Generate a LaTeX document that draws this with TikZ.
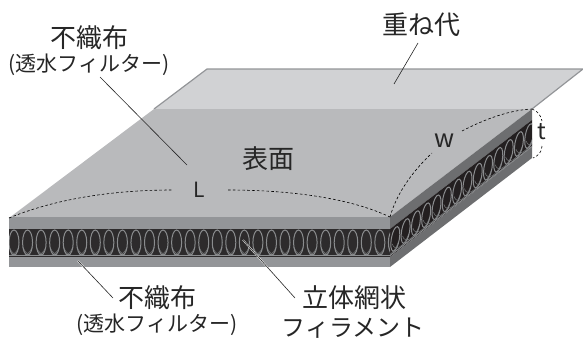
\documentclass[tikz,border=0pt]{standalone}
\usepackage{fontspec}
\setmainfont{Noto Sans CJK JP}
\definecolor{topc}{HTML}{B9BABC}
\definecolor{flapc}{HTML}{D1D2D4}
\definecolor{frontc}{HTML}{939598}
\definecolor{sidec}{HTML}{6D6E70}
\definecolor{darkc}{HTML}{2D2B2C}
\definecolor{sidedark}{HTML}{231F20}
\definecolor{coilc}{HTML}{8A8C8E}
\tikzset{
  lbig/.style={inner sep=0pt,text=black!85,font=\fontsize{26}{26}\selectfont},
  lkana/.style={inner sep=0pt,text=black!85,font=\fontsize{24}{24}\selectfont},
  lsmall/.style={inner sep=0pt,text=black!85,font=\fontsize{21}{21}\selectfont},
  lsym/.style={inner sep=0pt,text=black!85,font=\fontsize{21}{21}\selectfont},
  lsymw/.style={inner sep=0pt,text=black!85,font=\fontsize{25}{25}\selectfont},
  lsymt/.style={inner sep=0pt,text=black!85,font=\fontsize{23}{23}\selectfont},
  dimline/.style={black,line width=0.6pt,dash pattern=on 2.6pt off 2.2pt},
  leaderhalo/.style={white,line width=1.5pt},
  leader/.style={black!85,line width=0.6pt},
  coil/.style={coilc,line width=1pt},
  coilarc/.style={coilc!80!black,line width=0.6pt}
}
\begin{document}
\begin{tikzpicture}[x=1pt,y=-1pt]
\useasboundingbox (0,0) rectangle (583,340);
% flap and top surface
\fill[flapc] (207,69) -- (583,69) -- (532,109) -- (154,109) -- cycle;
\draw[frontc,line width=1.2pt] (154,109) -- (207,69) -- (583,69) -- (532,109);
\fill[topc] (9,218) -- (154,109) -- (532,109) -- (390,217) -- cycle;
% front layers
\fill[frontc] (9,217) rectangle (390,229);
\fill[darkc] (9,229) rectangle (390,257);
\fill[frontc] (9,257) rectangle (390,267);
% side layers
\fill[sidec] (390,217) -- (532,109) -- (532,120) -- (390,229) -- cycle;
\fill[sidedark] (390,229) -- (532,120) -- (532,147) -- (390,257) -- cycle;
\fill[sidec] (390,257) -- (532,147) -- (532,158) -- (390,267) -- cycle;
% front coil
\begin{scope}
\clip (9,229) rectangle (390,257);
\foreach \i [evaluate=\i as \xc using 14+13.55*\i] in {-1,0,...,28}{
  \draw[coilarc] (\xc-4.6,247) .. controls (\xc-2,254) and (\xc+2,256) .. (\xc+6.8,255.5)
     .. controls (\xc+11.5,256) and (\xc+15.5,254) .. (\xc+18.2,247);
  \draw[coil] (\xc,242.5) ellipse (5 and 12.5);
}
\draw[coil] (9,255.5) -- (390,255.5);
\end{scope}
% side coil
\begin{scope}
\clip (390,229) -- (532,120) -- (532,147) -- (390,257) -- cycle;
\foreach \i [evaluate=\i as \xc using 385+10.3*\i, evaluate=\i as \yc using 243-0.768*(-5+10.3*\i)] in {0,1,...,15}{
  \draw[coilarc] (\xc-3,\yc+5) .. controls (\xc-1,\yc+13) and (\xc+9,\yc+8) .. (\xc+13.5,\yc-5);
  \draw[coil,shift={(\xc,\yc)},rotate=-10] (0,0) ellipse (4 and 12.5);
}
\draw[coil] (390,255.5) -- (532,146.5);
\end{scope}
% dimension labels
\node[lsym] (L) at (199.5,190) {L};
\node[lsymw] (W) at (445,141) {w};
\node[lsymt] (T) at (541.5,132) {t};
\coordinate (fl) at (9,218);
\coordinate (fr) at (390,217);
\coordinate (br) at (532,109);
\coordinate (brb) at (533,158);
\draw[dimline] (fl) .. controls (60,197) and (120,190) .. (172,190);
\draw[dimline] (228,190) .. controls (290,190) and (350,198) .. (fr);
\draw[dimline] (fr) .. controls (397,192) and (414,170) .. (432,153);
\draw[dimline] (462,131) .. controls (485,119) and (510,110) .. (br);
\draw[dimline] (br) .. controls (538,111) and (541,116) .. (542,121);
\draw[dimline] (542,146) .. controls (542,152) and (538,156) .. (brb);
% texts
\node[lbig] (a) at (89,38) {不織布};
\node[lsmall] (a2) at (89,65) {(透水フィルター)};
\node[lbig] (b) at (421,25) {重ね代};
\node[lbig] (c) at (268,159) {表面};
\node[lbig] (d) at (157,298) {不織布};
\node[lsmall] (d2) at (157,325) {(透水フィルター)};
\node[lbig] (e) at (354,298) {立体網状};
\node[lkana] (e2) at (353,328) {フィラメント};
% leaders
\coordinate (a0) at (100,77);
\coordinate (a1) at (187,165);
\coordinate (b0) at (418,43);
\coordinate (b1) at (394,84);
\coordinate (d0) at (113,298);
\coordinate (d1) at (78,261);
\coordinate (e0) at (295,298);
\coordinate (e1) at (243,240);
\draw[leaderhalo] (d0) -- (d1);
\draw[leaderhalo] (e0) -- (e1);
\draw[leader] (a0) -- (a1);
\draw[leader] (b0) -- (b1);
\draw[leader] (d0) -- (d1);
\draw[leader] (e0) -- (e1);
\end{tikzpicture}
\end{document}
